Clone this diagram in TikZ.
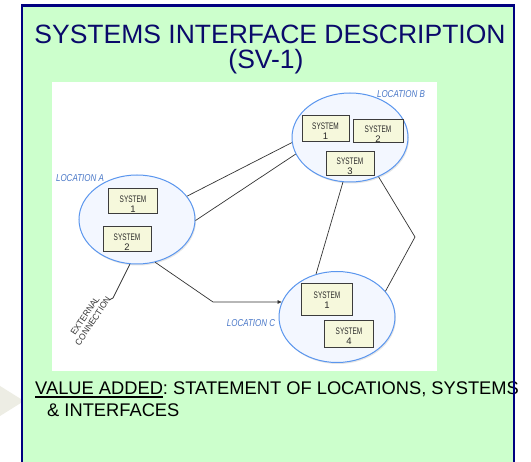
\documentclass[tikz,border=0pt]{standalone}
\usepackage{fontspec}
\setmainfont{Liberation Sans}
\usetikzlibrary{shapes.geometric,arrows.meta,shadows}
\definecolor{bggreen}{HTML}{CCFFCC}
\definecolor{framenavy}{HTML}{000080}
\definecolor{titleblue}{HTML}{0A0A6A}
\definecolor{locfill}{HTML}{F3F7FF}
\definecolor{locdraw}{HTML}{5A96EE}
\definecolor{loctext}{HTML}{4A78C8}
\definecolor{sysfill}{HTML}{F6F8DC}
\definecolor{sysdraw}{HTML}{3C3C3C}
\definecolor{systxt}{HTML}{2A2A2A}
\definecolor{linegray}{HTML}{333333}
\definecolor{arrowgray}{HTML}{EDEDE4}
\newcommand{\sysname}[1]{\scalebox{0.68}[1]{SYSTEM}\\#1}
\newcommand{\condensed}[1]{\scalebox{0.8}[1]{#1}}
\frenchspacing
\begin{document}
\begin{tikzpicture}[x=1pt,y=-1pt,
  location/.style={ellipse,draw=locdraw,fill=locfill,line width=1pt,inner sep=0pt,
    minimum width=116pt,minimum height=89pt,
    drop shadow={shadow xshift=1pt,shadow yshift=-1.5pt,opacity=0.2}},
  sysbox/.style={draw=sysdraw,fill=sysfill,line width=1pt,inner sep=0pt},
  systext/.style={inner sep=0pt,align=center,text=systxt,yshift=-2.5pt,
    font=\fontsize{9.5}{10}\selectfont},
  loclabel/.style={text=loctext,inner sep=0pt,font=\fontsize{10}{10}\selectfont\itshape},
  link/.style={draw=linegray,line width=0.7pt},
  bigtext/.style={font=\fontsize{18.3}{22}\selectfont,inner sep=0pt},
]
\useasboundingbox (0,0) rectangle (531,462);
\fill[white] (0,0) rectangle (531,462);
% left grey pointer
\fill[arrowgray] (0,386) -- (24,401) -- (0,416) -- cycle;
% green panel
\fill[bggreen] (22,5.5) rectangle (514,480);
% title
\node[anchor=base,inner sep=0pt,text=titleblue,font=\fontsize{26.5}{30}\selectfont] (title1) at (270,44) {SYSTEMS INTERFACE DESCRIPTION};
\node[anchor=base,inner sep=0pt,text=titleblue,font=\fontsize{26.5}{30}\selectfont] (title2) at (266,69) {(SV-1)};
% white picture area
\fill[white] (52,82) rectangle (437,371);
% locations
\node[location] (locA) at (137,219.5) {};
\node[location] (locB) at (350,137.5) {};
\node[location,minimum height=91pt] (locC) at (337,317) {};
% systems
\node[sysbox,minimum width=49pt,minimum height=25pt] (a1) at (133,201.5) {};
\node[systext] (a1t) at (a1.center) {\sysname{1}};
\node[sysbox,minimum width=48pt,minimum height=25pt] (a2) at (127,239.5) {};
\node[systext] (a2t) at (a2.center) {\sysname{2}};
\node[sysbox,minimum width=47pt,minimum height=26pt] (b1) at (325.5,129) {};
\node[systext] (b1t) at (b1.center) {\sysname{1}};
\node[sysbox,minimum width=50pt,minimum height=23pt] (b2) at (378,131.5) {};
\node[systext] (b2t) at (b2.center) {\sysname{2}};
\node[sysbox,minimum width=48pt,minimum height=24pt] (b3) at (350,164) {};
\node[systext] (b3t) at (b3.center) {\sysname{3}};
\node[sysbox,minimum width=51pt,minimum height=32pt] (c1) at (327,300) {};
\node[systext,yshift=2pt] (c1t) at (c1.center) {\sysname{1}};
\node[sysbox,minimum width=49pt,minimum height=27pt] (c4) at (349,334) {};
\node[systext] (c4t) at (c4.center) {\sysname{4}};
% location labels
\node[loclabel] (labA) at (80,178) {\condensed{LOCATION A}};
\node[loclabel] (labB) at (401,94) {\condensed{LOCATION B}};
\node[loclabel] (labC) at (251,323) {\condensed{LOCATION C}};
% connectors
\coordinate (knee) at (213,302);
\coordinate (bend) at (415,237);
\coordinate (extfoot) at (113,298);
\coordinate (extend) at (110,299.5);
\draw[link] (locA.25) -- (locB.185);
\draw[link] (locA.-1) -- (locB.197);
\draw[link] (locB.261.6) -- (locC.116.6);
\draw[link] (locB.306) -- (bend) -- (locC.28);
\draw[link,-{Triangle[length=4pt,width=3.5pt]}] (locA.293.6) -- (knee) -- (knee -| locC.165);
\draw[link] (locA.261) -- (extfoot) -- (extend);
\node[rotate=56,align=center,text=linegray,inner sep=0pt,font=\fontsize{8.8}{9.5}\selectfont] (ext) at (89,318.5) {\scalebox{0.95}[1]{EXTERNAL}\\\scalebox{0.95}[1]{CONNECTION}};
% bottom statement
\node[bigtext,anchor=base west] (va) at (35,395) {{\setbox0\hbox{VALUE ADDED}\rlap{\rule[-2.6pt]{\wd0}{1.3pt}}\box0}: STATEMENT OF LOCATIONS, SYSTEMS};
\node[bigtext,anchor=base west] (ia) at (47,417) {\& INTERFACES};
% frame border
\draw[framenavy,line width=2.5pt] (22,480) -- (22,5.5) -- (514,5.5) -- (514,480);
\end{tikzpicture}
\end{document}
